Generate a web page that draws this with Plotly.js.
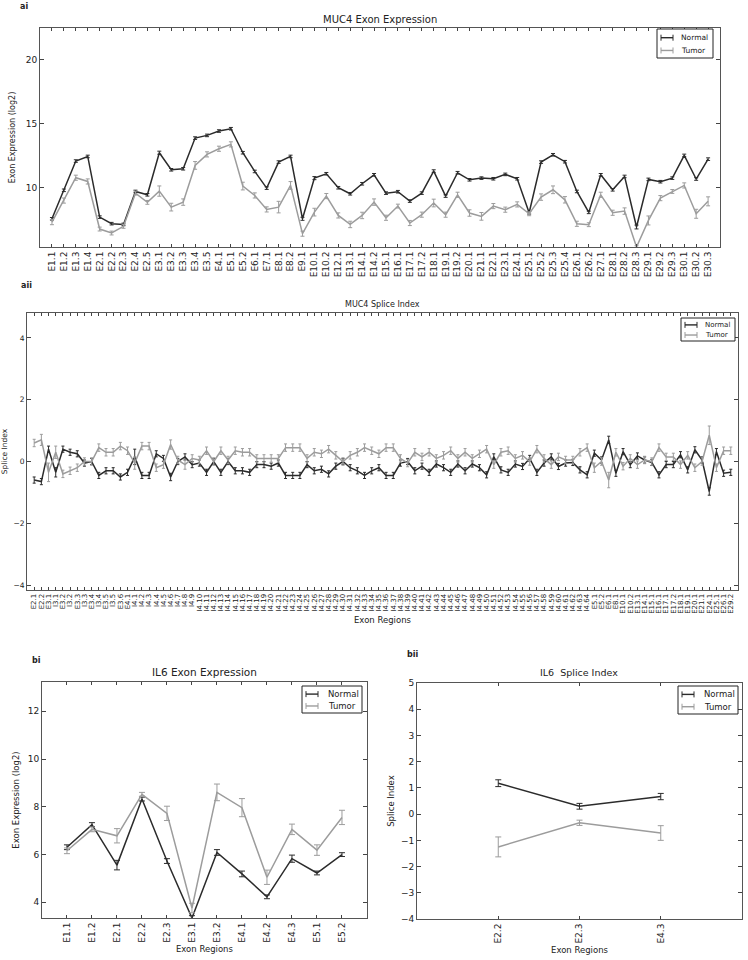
<!DOCTYPE html>
<html>
<head>
<meta charset="utf-8">
<script src="https://cdn.plot.ly/plotly-3.0.1.min.js"></script>
<style>
  body { margin: 0; background: #fff; }
  #chart { width: 748px; height: 960px; }
</style>
</head>
<body>
<div id="chart"></div>
<script>
// ---- MUC4 exon expression (ai) ----
const muc4Exons = ["E1.1","E1.2","E1.3","E1.4","E2.1","E2.2","E2.3","E2.4","E2.5","E3.1","E3.2","E3.3","E3.4","E3.5","E4.1","E5.1","E5.2","E6.1","E7.1","E8.1","E8.2","E9.1","E10.1","E10.2","E12.1","E13.1","E14.1","E14.2","E15.1","E16.1","E17.1","E17.2","E18.1","E19.1","E19.2","E20.1","E21.1","E22.1","E23.1","E24.1","E25.1","E25.2","E25.3","E25.4","E26.1","E26.2","E27.1","E28.1","E28.2","E28.3","E29.1","E29.2","E29.3","E30.1","E30.2","E30.3"];
const muc4ExprNormal = [7.58,9.8,12.08,12.44,7.71,7.2,7.14,9.71,9.45,12.73,11.4,11.48,13.87,14.08,14.42,14.6,12.73,11.27,9.97,12.0,12.44,7.58,10.75,11.09,10.0,9.53,10.31,11.01,9.58,9.69,8.96,9.58,11.3,9.35,11.17,10.62,10.75,10.7,11.04,10.7,8.05,12.0,12.57,12.03,9.71,8.08,11.01,9.84,10.88,6.94,10.65,10.47,10.75,12.52,10.68,12.23];
const muc4ExprNormalErr = [0.1,0.1,0.1,0.1,0.1,0.1,0.1,0.1,0.1,0.12,0.1,0.1,0.1,0.1,0.1,0.1,0.1,0.1,0.1,0.1,0.1,0.12,0.12,0.1,0.1,0.1,0.1,0.1,0.1,0.1,0.1,0.1,0.1,0.1,0.1,0.1,0.1,0.1,0.1,0.1,0.1,0.1,0.1,0.1,0.1,0.1,0.1,0.1,0.1,0.15,0.1,0.1,0.1,0.1,0.1,0.1];
const muc4ExprTumor = [7.32,9.0,10.78,10.49,6.78,6.47,6.99,9.58,8.86,9.74,8.49,8.88,11.74,12.6,13.04,13.38,10.13,9.4,8.31,8.49,10.18,6.42,8.1,9.35,7.84,7.14,7.84,8.88,7.66,8.57,7.25,7.9,8.81,7.9,9.45,8.03,7.77,8.57,8.29,8.7,7.97,9.27,9.84,9.06,7.19,7.12,9.45,8.05,8.18,5.38,7.45,9.19,9.71,10.18,7.97,8.94];
const muc4ExprTumorErr = [0.2,0.2,0.2,0.2,0.15,0.15,0.15,0.15,0.15,0.4,0.3,0.25,0.3,0.2,0.2,0.2,0.3,0.2,0.2,0.45,0.3,0.2,0.3,0.2,0.2,0.25,0.25,0.25,0.2,0.15,0.2,0.2,0.3,0.2,0.2,0.25,0.3,0.2,0.2,0.2,0.15,0.25,0.3,0.25,0.2,0.15,0.2,0.2,0.25,0.1,0.35,0.2,0.15,0.2,0.35,0.35];

// ---- MUC4 splice index (aii) ----
const muc4Regions = ["E2.1","E2.2","E3.1","I3.1","E3.2","I3.2","E3.3","I3.3","E3.4","I3.4","E3.5","I3.5","E3.6","E4.1",
  "I4.1","I4.2","I4.3","I4.4","I4.5","I4.6","I4.7","I4.8","I4.9","I4.10","I4.11","I4.12","I4.13","I4.14","I4.15","I4.16",
  "I4.17","I4.18","I4.19","I4.20","I4.21","I4.22","I4.23","I4.24","I4.25","I4.26","I4.27","I4.28","I4.29","I4.30","I4.31","I4.32",
  "I4.33","I4.34","I4.35","I4.36","I4.37","I4.38","I4.39","I4.40","I4.41","I4.42","I4.43","I4.44","I4.45","I4.46","I4.47","I4.48",
  "I4.49","I4.50","I4.51","I4.52","I4.53","I4.54","I4.55","I4.56","I4.57","I4.58","I4.59","I4.60","I4.61","I4.62","I4.63","I4.64",
  "E5.1","E5.2","E6.1","E8.1","E10.1","E10.2","E13.1","E14.1","E15.1","E16.1","E17.1","E17.2","E18.1","E19.1","E20.1","E21.1","E24.1","E25.1","E26.1","E29.2"];
const muc4SiNormal = [-0.6,-0.65,0.4,-0.35,0.4,0.3,0.25,-0.05,0.0,-0.45,-0.3,-0.3,-0.5,-0.35,0.15,-0.45,-0.45,0.25,0.1,-0.5,0.0,0.15,-0.1,-0.05,-0.35,0.0,-0.35,0.0,-0.3,-0.3,-0.35,-0.1,-0.1,-0.15,-0.05,-0.45,-0.45,-0.45,-0.1,-0.3,-0.25,-0.4,-0.15,0.0,-0.2,-0.3,-0.45,
  -0.3,-0.2,-0.45,-0.45,-0.05,0.0,-0.3,-0.15,-0.35,-0.08,-0.2,-0.35,-0.08,-0.3,-0.08,-0.2,-0.43,0.15,-0.27,-0.35,-0.08,-0.16,0.1,-0.35,-0.05,0.15,-0.16,-0.05,-0.03,-0.27,-0.43,0.27,0.05,0.7,-0.38,0.32,-0.1,0.18,0.05,-0.03,-0.43,-0.1,-0.1,0.22,-0.27,0.38,0.05,-0.97,0.32,-0.38,-0.35];
const muc4SiNormalErr = [0.1,0.1,0.1,0.15,0.1,0.1,0.1,0.1,0.1,0.1,0.1,0.1,0.1,0.1,0.25,0.1,0.1,0.1,0.1,0.12,0.1,0.1,0.1,0.1,0.1,0.1,0.1,0.1,0.1,0.1,0.1,0.1,0.1,0.1,0.1,0.1,0.1,0.1,0.1,0.1,0.1,0.1,0.1,0.1,0.1,0.1,0.1,
  0.1,0.1,0.1,0.1,0.1,0.1,0.1,0.1,0.1,0.1,0.1,0.1,0.1,0.1,0.1,0.1,0.1,0.1,0.1,0.1,0.1,0.1,0.1,0.1,0.1,0.1,0.1,0.1,0.1,0.1,0.1,0.1,0.1,0.12,0.1,0.1,0.1,0.1,0.1,0.1,0.1,0.1,0.1,0.1,0.1,0.1,0.1,0.12,0.1,0.1,0.1];
const muc4SiTumor = [0.6,0.7,-0.35,0.3,-0.4,-0.3,-0.2,0.0,0.0,0.45,0.3,0.3,0.5,0.35,-0.05,0.5,0.5,-0.2,-0.1,0.55,0.05,-0.1,0.1,0.05,0.35,0.0,0.35,0.05,0.35,0.3,0.3,0.1,0.1,0.1,0.1,0.45,0.45,0.45,0.1,0.3,0.25,0.4,0.2,0.0,0.2,0.3,0.45,
  0.35,0.25,0.45,0.45,0.1,-0.05,0.3,0.15,0.3,0.1,0.2,0.35,0.1,0.3,0.1,0.25,0.4,-0.1,0.3,0.35,0.1,0.2,0.0,0.4,0.1,-0.1,0.15,0.05,0.05,0.3,0.45,-0.2,0.0,-0.6,0.3,-0.15,0.1,-0.1,0.05,0.0,0.45,0.15,0.15,-0.1,0.2,-0.2,0.0,0.85,-0.2,0.35,0.35];
const muc4SiTumorErr = [0.12,0.18,0.3,0.2,0.12,0.12,0.12,0.12,0.12,0.12,0.12,0.12,0.12,0.12,0.2,0.12,0.12,0.12,0.12,0.15,0.12,0.15,0.12,0.12,0.12,0.12,0.12,0.12,0.12,0.12,0.12,0.12,0.12,0.12,0.12,0.12,0.12,0.12,0.12,0.12,0.12,0.12,0.12,0.12,0.12,0.12,0.12,
  0.12,0.12,0.12,0.12,0.12,0.12,0.12,0.12,0.12,0.12,0.12,0.12,0.12,0.12,0.12,0.12,0.12,0.12,0.12,0.12,0.12,0.12,0.12,0.12,0.12,0.12,0.12,0.12,0.12,0.12,0.12,0.15,0.12,0.25,0.12,0.12,0.12,0.12,0.12,0.12,0.12,0.12,0.12,0.12,0.12,0.12,0.12,0.3,0.12,0.12,0.12];

// ---- IL6 exon expression (bi) ----
const il6Exons = ["E1.1","E1.2","E2.1","E2.2","E2.3","E3.1","E3.2","E4.1","E4.2","E4.3","E5.1","E5.2"];
const il6ExprNormal = [6.3,7.25,5.55,8.32,5.72,3.33,6.08,5.18,4.22,5.82,5.22,5.99];
const il6ExprNormalErr = [0.1,0.08,0.2,0.08,0.1,0.1,0.12,0.12,0.08,0.15,0.08,0.08];
const il6ExprTumor = [6.15,7.05,6.78,8.52,7.72,3.75,8.6,7.96,5.04,7.05,6.18,7.55];
const il6ExprTumorErr = [0.12,0.1,0.3,0.08,0.3,0.2,0.35,0.38,0.3,0.22,0.22,0.3];

// ---- IL6 splice index (bii) ----
const il6Regions = ["E2.2","E2.3","E4.3"];
const il6SiNormal = [1.18,0.3,0.67];
const il6SiNormalErr = [0.13,0.11,0.12];
const il6SiTumor = [-1.25,-0.33,-0.72];
const il6SiTumorErr = [0.38,0.1,0.28];

const seriesNames = ["Normal", "Tumor"];

const NORMAL = "#2b2b2b";
const TUMOR = "#9c9c9c";
const FONT = "DejaVu Sans";
const W = 748, H = 960;

function series(x, y, err, name, color, xa, ya, cap) {
  return {
    x, y, name, type: "scatter", mode: "lines",
    xaxis: xa, yaxis: ya, showlegend: false,
    line: { color, width: 1.5 },
    error_y: { type: "data", array: err, visible: true, color, thickness: 1, width: cap },
  };
}

const data = [
  series(muc4Exons, muc4ExprNormal, muc4ExprNormalErr, seriesNames[0], NORMAL, "x", "y", 2),
  series(muc4Exons, muc4ExprTumor, muc4ExprTumorErr, seriesNames[1], TUMOR, "x", "y", 2),
  series(muc4Regions, muc4SiNormal, muc4SiNormalErr, seriesNames[0], NORMAL, "x2", "y2", 1.5),
  series(muc4Regions, muc4SiTumor, muc4SiTumorErr, seriesNames[1], TUMOR, "x2", "y2", 1.5),
  series(il6Exons, il6ExprNormal, il6ExprNormalErr, seriesNames[0], NORMAL, "x3", "y3", 3),
  series(il6Exons, il6ExprTumor, il6ExprTumorErr, seriesNames[1], TUMOR, "x3", "y3", 3),
  series(il6Regions, il6SiNormal, il6SiNormalErr, seriesNames[0], NORMAL, "x4", "y4", 3),
  series(il6Regions, il6SiTumor, il6SiTumorErr, seriesNames[1], TUMOR, "x4", "y4", 3),
];

// matplotlib-like frame: inward ticks on all four sides
function xax(domain, anchor, range, size, title) {
  return {
    domain, anchor, range, type: "category",
    tickmode: "linear", tick0: 0, dtick: 1,
    tickangle: -90, ticks: "inside", ticklen: 3, tickcolor: "#444",
    showline: true, linecolor: "#555", linewidth: 1, mirror: "ticks",
    showgrid: false, zeroline: false,
    tickfont: { size, color: "#222" },
    title: title ? { text: title, font: { size: 8.5, color: "#222" }, standoff: 4 } : undefined,
  };
}
function yax(domain, anchor, range, dtick, size, title, tsize, standoff) {
  return {
    domain, anchor, range, dtick, tick0: 0,
    ticks: "inside", ticklen: 4, tickcolor: "#444",
    showline: true, linecolor: "#555", linewidth: 1, mirror: "ticks",
    showgrid: false, zeroline: false,
    tickfont: { size, color: "#222" },
    title: { text: title, font: { size: tsize, color: "#222" }, standoff },
  };
}
function note(text, x, y, size, bold) {
  return {
    text: bold ? "<b>" + text + "</b>" : text,
    xref: "paper", yref: "paper", x, y,
    xanchor: bold ? "left" : "center", yanchor: "middle",
    showarrow: false, font: { size, color: "#222" },
  };
}

// compact matplotlib-style legend box (errorbar handle + label), placed in pixels
const shapes = [];
const legendNotes = [];
function legendBox(left, top, w, h, size, textOff) {
  const px = (v) => v / W;
  const py = (v) => 1 - v / H;
  shapes.push({
    type: "rect", xref: "paper", yref: "paper",
    x0: px(left), x1: px(left + w), y0: py(top), y1: py(top + h),
    line: { color: "#222", width: 1 }, fillcolor: "#fff",
  });
  [NORMAL, TUMOR].forEach((c, i) => {
    const yy = top + h * (i === 0 ? 0.3 : 0.74);
    const a = left + 4, b = left + 16;
    shapes.push({ type: "line", xref: "paper", yref: "paper", x0: px(a), x1: px(b), y0: py(yy), y1: py(yy), line: { color: c, width: 1.4 } });
    [a, b].forEach((xx) => shapes.push({
      type: "line", xref: "paper", yref: "paper",
      x0: px(xx), x1: px(xx), y0: py(yy - 3), y1: py(yy + 3), line: { color: c, width: 1 },
    }));
    legendNotes.push({
      text: seriesNames[i], xref: "paper", yref: "paper",
      x: px(left + textOff), y: py(yy), xanchor: "left", yanchor: "middle",
      showarrow: false, font: { size, color: "#222" },
    });
  });
}
legendBox(657, 29, 56, 29, 7.5, 22);
legendBox(681, 318, 54, 23, 7, 22);
legendBox(302, 686, 60, 27, 8.5, 24);
legendBox(678, 686, 60, 28, 8.5, 24);

const layout = {
  width: W,
  height: H,
  margin: { l: 0, r: 0, t: 0, b: 0 },
  paper_bgcolor: "#fff",
  plot_bgcolor: "#fff",
  font: { family: FONT, color: "#222" },
  showlegend: false,

  xaxis: xax([0.0535, 0.9626], "y", [-1, 56], 9),
  yaxis: yax([0.7427, 0.9708], "x", [5.38, 22.45], 5, 9, "Exon Expression (log2)", 8, 8),

  xaxis2: xax([0.0361, 0.9866], "y2", [-1, 98], 7, "Exon Regions"),
  yaxis2: yax([0.3854, 0.674], "x2", [-4.16, 4.81], 2, 7.5, "Splice Index", 7.5, 10),

  xaxis3: xax([0.0561, 0.4906], "y3", [-1, 12], 9, "Exon Regions"),
  yaxis3: yax([0.0437, 0.2896], "x3", [3.33, 13.23], 2, 9, "Exon Expression (log2)", 8.5, 6),

  xaxis4: xax([0.5575, 0.992], "y4", [-1, 3], 9, "Exon Regions"),
  yaxis4: yax([0.0427, 0.2885], "x4", [-4, 5], 1, 9, "Splice Index", 8.5, 4),

  shapes,
  annotations: [
    note("MUC4 Exon Expression", 0.508, 0.980, 10),
    note("MUC4 Splice Index", 0.511, 0.6833, 8),
    note("IL6 Exon Expression", 0.2734, 0.300, 10.5),
    note("IL6\u00a0 Splice Index", 0.7747, 0.300, 9.5),
    note("ai", 0.024, 0.9935, 8, true),
    note("aii", 0.026, 0.703, 8, true),
    note("bi", 0.04, 0.3125, 8, true),
    note("bii", 0.542, 0.318, 8, true),
  ].concat(legendNotes),
};

Plotly.newPlot("chart", data, layout, { staticPlot: true, displayModeBar: false });
</script>
</body>
</html>
